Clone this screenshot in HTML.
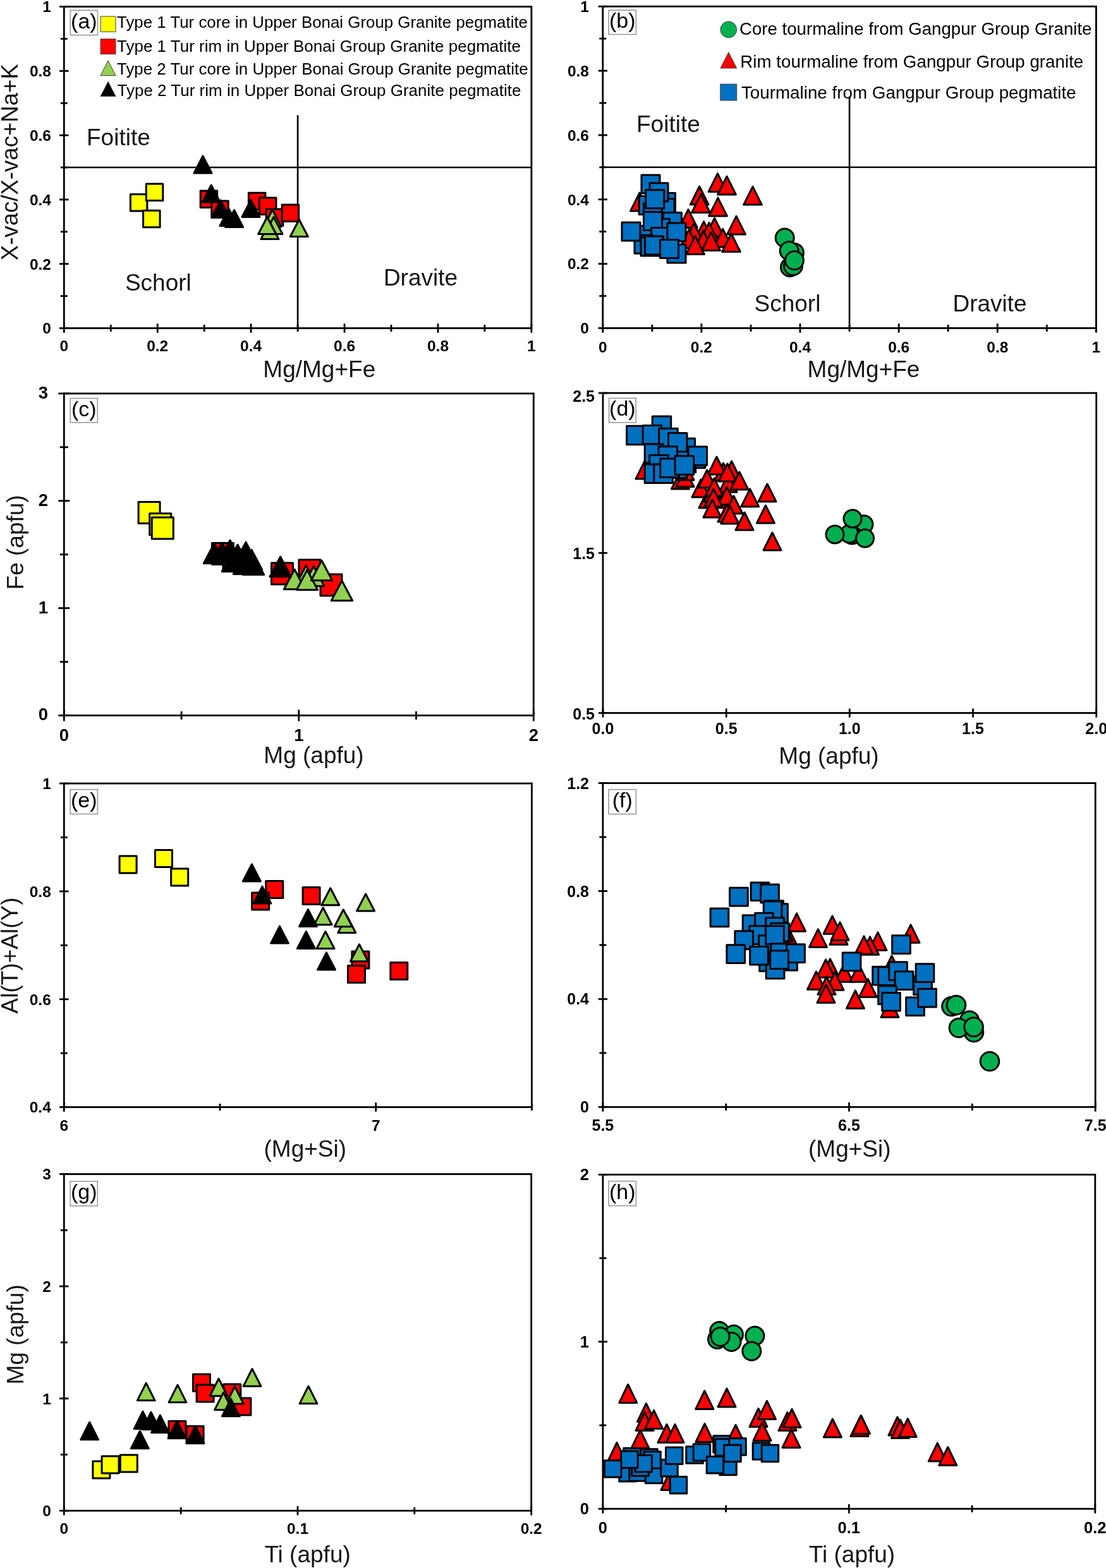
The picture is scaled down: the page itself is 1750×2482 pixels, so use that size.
<!DOCTYPE html>
<html><head><meta charset="utf-8"><title>Tourmaline plots</title>
<style>html,body{margin:0;padding:0;background:#fff;overflow:hidden;width:1750px;height:2482px;}svg{display:block;}</style>
</head><body>
<svg width="1750" height="2482" viewBox="0 0 1750 2482" font-family='"Liberation Sans", sans-serif'>
<rect x="0" y="0" width="1750" height="2482" fill="#fff"/>
<line x1="101.3" y1="265" x2="840.9" y2="265" stroke="#000" stroke-width="2.6"/>
<line x1="471.1" y1="182.2" x2="471.1" y2="519.5" stroke="#000" stroke-width="2.6"/>
<rect x="206.4" y="307.4" width="26.5" height="26.5" fill="#FFFF00" stroke="#000" stroke-width="3" stroke-linejoin="round"/>
<rect x="231.3" y="291.1" width="26.5" height="26.5" fill="#FFFF00" stroke="#000" stroke-width="3" stroke-linejoin="round"/>
<rect x="226.6" y="333.2" width="26.5" height="26.5" fill="#FFFF00" stroke="#000" stroke-width="3" stroke-linejoin="round"/>
<rect x="317.2" y="302.1" width="26.5" height="26.5" fill="#FF0000" stroke="#000" stroke-width="3" stroke-linejoin="round"/>
<rect x="334.8" y="317.9" width="26.5" height="26.5" fill="#FF0000" stroke="#000" stroke-width="3" stroke-linejoin="round"/>
<rect x="393.4" y="305.2" width="26.5" height="26.5" fill="#FF0000" stroke="#000" stroke-width="3" stroke-linejoin="round"/>
<rect x="410.4" y="312.9" width="26.5" height="26.5" fill="#FF0000" stroke="#000" stroke-width="3" stroke-linejoin="round"/>
<rect x="421.2" y="331.1" width="26.5" height="26.5" fill="#FF0000" stroke="#000" stroke-width="3" stroke-linejoin="round"/>
<rect x="446.2" y="323.9" width="26.5" height="26.5" fill="#FF0000" stroke="#000" stroke-width="3" stroke-linejoin="round"/>
<polygon points="431,332 445,359 417,359" fill="#92D050" stroke="#000" stroke-width="3" stroke-linejoin="round"/>
<polygon points="433,343.5 447,370.5 419,370.5" fill="#92D050" stroke="#000" stroke-width="3" stroke-linejoin="round"/>
<polygon points="427,351.5 441,378.5 413,378.5" fill="#92D050" stroke="#000" stroke-width="3" stroke-linejoin="round"/>
<polygon points="422.7,343.5 436.7,370.5 408.7,370.5" fill="#92D050" stroke="#000" stroke-width="3" stroke-linejoin="round"/>
<polygon points="473.3,347.5 487.3,374.5 459.3,374.5" fill="#92D050" stroke="#000" stroke-width="3" stroke-linejoin="round"/>
<polygon points="321,246.9 335,273.9 307,273.9" fill="#000000" stroke="#000" stroke-width="3" stroke-linejoin="round"/>
<polygon points="334.2,293 348.2,320 320.2,320" fill="#000000" stroke="#000" stroke-width="3" stroke-linejoin="round"/>
<polygon points="349,317 363,344 335,344" fill="#000000" stroke="#000" stroke-width="3" stroke-linejoin="round"/>
<polygon points="362,330.5 376,357.5 348,357.5" fill="#000000" stroke="#000" stroke-width="3" stroke-linejoin="round"/>
<polygon points="370.6,332.5 384.6,359.5 356.6,359.5" fill="#000000" stroke="#000" stroke-width="3" stroke-linejoin="round"/>
<polygon points="397,316.5 411,343.5 383,343.5" fill="#000000" stroke="#000" stroke-width="3" stroke-linejoin="round"/>
<rect x="101.3" y="10.5" width="739.6" height="509" fill="none" stroke="#000" stroke-width="2.8"/>
<line x1="101.3" y1="512.3" x2="101.3" y2="526.7" stroke="#000" stroke-width="2.8"/>
<text x="101.3" y="556" font-size="24.5" font-weight="bold" text-anchor="middle" fill="#000">0</text>
<line x1="249.2" y1="512.3" x2="249.2" y2="526.7" stroke="#000" stroke-width="2.8"/>
<text x="249.2" y="556" font-size="24.5" font-weight="bold" text-anchor="middle" fill="#000">0.2</text>
<line x1="397.1" y1="512.3" x2="397.1" y2="526.7" stroke="#000" stroke-width="2.8"/>
<text x="397.1" y="556" font-size="24.5" font-weight="bold" text-anchor="middle" fill="#000">0.4</text>
<line x1="545.1" y1="512.3" x2="545.1" y2="526.7" stroke="#000" stroke-width="2.8"/>
<text x="545.1" y="556" font-size="24.5" font-weight="bold" text-anchor="middle" fill="#000">0.6</text>
<line x1="693" y1="512.3" x2="693" y2="526.7" stroke="#000" stroke-width="2.8"/>
<text x="693" y="556" font-size="24.5" font-weight="bold" text-anchor="middle" fill="#000">0.8</text>
<line x1="840.9" y1="512.3" x2="840.9" y2="526.7" stroke="#000" stroke-width="2.8"/>
<text x="840.9" y="556" font-size="24.5" font-weight="bold" text-anchor="middle" fill="#000">1</text>
<line x1="175.3" y1="514" x2="175.3" y2="525" stroke="#000" stroke-width="2.8"/>
<line x1="323.2" y1="514" x2="323.2" y2="525" stroke="#000" stroke-width="2.8"/>
<line x1="471.1" y1="514" x2="471.1" y2="525" stroke="#000" stroke-width="2.8"/>
<line x1="619" y1="514" x2="619" y2="525" stroke="#000" stroke-width="2.8"/>
<line x1="766.9" y1="514" x2="766.9" y2="525" stroke="#000" stroke-width="2.8"/>
<line x1="94.1" y1="519.5" x2="108.5" y2="519.5" stroke="#000" stroke-width="2.8"/>
<text x="81" y="528.3" font-size="24.5" font-weight="bold" text-anchor="end" fill="#000">0</text>
<line x1="94.1" y1="417.7" x2="108.5" y2="417.7" stroke="#000" stroke-width="2.8"/>
<text x="81" y="426.5" font-size="24.5" font-weight="bold" text-anchor="end" fill="#000">0.2</text>
<line x1="94.1" y1="315.9" x2="108.5" y2="315.9" stroke="#000" stroke-width="2.8"/>
<text x="81" y="324.7" font-size="24.5" font-weight="bold" text-anchor="end" fill="#000">0.4</text>
<line x1="94.1" y1="214.1" x2="108.5" y2="214.1" stroke="#000" stroke-width="2.8"/>
<text x="81" y="222.9" font-size="24.5" font-weight="bold" text-anchor="end" fill="#000">0.6</text>
<line x1="94.1" y1="112.3" x2="108.5" y2="112.3" stroke="#000" stroke-width="2.8"/>
<text x="81" y="121.1" font-size="24.5" font-weight="bold" text-anchor="end" fill="#000">0.8</text>
<line x1="94.1" y1="10.5" x2="108.5" y2="10.5" stroke="#000" stroke-width="2.8"/>
<text x="81" y="19.3" font-size="24.5" font-weight="bold" text-anchor="end" fill="#000">1</text>
<line x1="95.8" y1="468.6" x2="106.8" y2="468.6" stroke="#000" stroke-width="2.8"/>
<line x1="95.8" y1="366.8" x2="106.8" y2="366.8" stroke="#000" stroke-width="2.8"/>
<line x1="95.8" y1="265" x2="106.8" y2="265" stroke="#000" stroke-width="2.8"/>
<line x1="95.8" y1="163.2" x2="106.8" y2="163.2" stroke="#000" stroke-width="2.8"/>
<line x1="95.8" y1="61.4" x2="106.8" y2="61.4" stroke="#000" stroke-width="2.8"/>
<rect x="111.3" y="16.4" width="43.2" height="39.2" fill="#fff" stroke="#9a9a9a" stroke-width="1.6"/>
<text x="132.9" y="44.8" font-size="34" text-anchor="middle" fill="#000">(a)</text>
<line x1="953.8" y1="264.8" x2="1734.4" y2="264.8" stroke="#000" stroke-width="2.6"/>
<line x1="1344.1" y1="152.5" x2="1344.1" y2="519.4" stroke="#000" stroke-width="2.6"/>
<circle cx="1241.7" cy="376.5" r="14.5" fill="#00B050" stroke="#000" stroke-width="3"/>
<circle cx="1250" cy="423" r="14.5" fill="#00B050" stroke="#000" stroke-width="3"/>
<circle cx="1255" cy="421" r="14.5" fill="#00B050" stroke="#000" stroke-width="3"/>
<circle cx="1257" cy="400" r="14.5" fill="#00B050" stroke="#000" stroke-width="3"/>
<circle cx="1248.7" cy="397" r="14.5" fill="#00B050" stroke="#000" stroke-width="3"/>
<circle cx="1257" cy="412.3" r="14.5" fill="#00B050" stroke="#000" stroke-width="3"/>
<polygon points="1012,305.1 1026.4,333.9 997.6,333.9" fill="#FF0000" stroke="#000" stroke-width="3" stroke-linejoin="round"/>
<polygon points="1135.5,274.6 1149.9,303.4 1121.1,303.4" fill="#FF0000" stroke="#000" stroke-width="3" stroke-linejoin="round"/>
<polygon points="1150,279.2 1164.4,308 1135.6,308" fill="#FF0000" stroke="#000" stroke-width="3" stroke-linejoin="round"/>
<polygon points="1191,295.3 1205.4,324.1 1176.6,324.1" fill="#FF0000" stroke="#000" stroke-width="3" stroke-linejoin="round"/>
<polygon points="1106.7,295 1121.1,323.8 1092.3,323.8" fill="#FF0000" stroke="#000" stroke-width="3" stroke-linejoin="round"/>
<polygon points="1109,307.6 1123.4,336.4 1094.6,336.4" fill="#FF0000" stroke="#000" stroke-width="3" stroke-linejoin="round"/>
<polygon points="1136,313.1 1150.4,341.9 1121.6,341.9" fill="#FF0000" stroke="#000" stroke-width="3" stroke-linejoin="round"/>
<polygon points="1089,331.6 1103.4,360.4 1074.6,360.4" fill="#FF0000" stroke="#000" stroke-width="3" stroke-linejoin="round"/>
<polygon points="1165,342.1 1179.4,370.9 1150.6,370.9" fill="#FF0000" stroke="#000" stroke-width="3" stroke-linejoin="round"/>
<polygon points="1130.6,345.2 1145,374 1116.2,374" fill="#FF0000" stroke="#000" stroke-width="3" stroke-linejoin="round"/>
<polygon points="1113.6,350.6 1128,379.4 1099.2,379.4" fill="#FF0000" stroke="#000" stroke-width="3" stroke-linejoin="round"/>
<polygon points="1122,352.6 1136.4,381.4 1107.6,381.4" fill="#FF0000" stroke="#000" stroke-width="3" stroke-linejoin="round"/>
<polygon points="1098,353.6 1112.4,382.4 1083.6,382.4" fill="#FF0000" stroke="#000" stroke-width="3" stroke-linejoin="round"/>
<polygon points="1143.7,362.3 1158.1,391.1 1129.3,391.1" fill="#FF0000" stroke="#000" stroke-width="3" stroke-linejoin="round"/>
<polygon points="1157,369.6 1171.4,398.4 1142.6,398.4" fill="#FF0000" stroke="#000" stroke-width="3" stroke-linejoin="round"/>
<polygon points="1113,365.6 1127.4,394.4 1098.6,394.4" fill="#FF0000" stroke="#000" stroke-width="3" stroke-linejoin="round"/>
<polygon points="1090,363.6 1104.4,392.4 1075.6,392.4" fill="#FF0000" stroke="#000" stroke-width="3" stroke-linejoin="round"/>
<polygon points="1100,373.6 1114.4,402.4 1085.6,402.4" fill="#FF0000" stroke="#000" stroke-width="3" stroke-linejoin="round"/>
<polygon points="1125,367.6 1139.4,396.4 1110.6,396.4" fill="#FF0000" stroke="#000" stroke-width="3" stroke-linejoin="round"/>
<rect x="1011.5" y="357.5" width="29" height="29" fill="#0070C0" stroke="#000" stroke-width="3" stroke-linejoin="round"/>
<rect x="1039.5" y="305.5" width="29" height="29" fill="#0070C0" stroke="#000" stroke-width="3" stroke-linejoin="round"/>
<rect x="1038.1" y="314.5" width="29" height="29" fill="#0070C0" stroke="#000" stroke-width="3" stroke-linejoin="round"/>
<rect x="1011.2" y="310.5" width="29" height="29" fill="#0070C0" stroke="#000" stroke-width="3" stroke-linejoin="round"/>
<rect x="1018.5" y="321.5" width="29" height="29" fill="#0070C0" stroke="#000" stroke-width="3" stroke-linejoin="round"/>
<rect x="1049.5" y="336.5" width="29" height="29" fill="#0070C0" stroke="#000" stroke-width="3" stroke-linejoin="round"/>
<rect x="1030.5" y="346.5" width="29" height="29" fill="#0070C0" stroke="#000" stroke-width="3" stroke-linejoin="round"/>
<rect x="1018.5" y="335.5" width="29" height="29" fill="#0070C0" stroke="#000" stroke-width="3" stroke-linejoin="round"/>
<rect x="1030.5" y="360.5" width="29" height="29" fill="#0070C0" stroke="#000" stroke-width="3" stroke-linejoin="round"/>
<rect x="1004" y="372.2" width="29" height="29" fill="#0070C0" stroke="#000" stroke-width="3" stroke-linejoin="round"/>
<rect x="1014.1" y="375.9" width="29" height="29" fill="#0070C0" stroke="#000" stroke-width="3" stroke-linejoin="round"/>
<rect x="1056" y="387" width="29" height="29" fill="#0070C0" stroke="#000" stroke-width="3" stroke-linejoin="round"/>
<rect x="1015" y="277.1" width="29" height="29" fill="#0070C0" stroke="#000" stroke-width="3" stroke-linejoin="round"/>
<rect x="1028" y="289.8" width="29" height="29" fill="#0070C0" stroke="#000" stroke-width="3" stroke-linejoin="round"/>
<rect x="1021.8" y="300.8" width="29" height="29" fill="#0070C0" stroke="#000" stroke-width="3" stroke-linejoin="round"/>
<rect x="984" y="351.9" width="29" height="29" fill="#0070C0" stroke="#000" stroke-width="3" stroke-linejoin="round"/>
<rect x="1056" y="353" width="29" height="29" fill="#0070C0" stroke="#000" stroke-width="3" stroke-linejoin="round"/>
<rect x="1020.5" y="374.1" width="29" height="29" fill="#0070C0" stroke="#000" stroke-width="3" stroke-linejoin="round"/>
<rect x="1044.5" y="379.5" width="29" height="29" fill="#0070C0" stroke="#000" stroke-width="3" stroke-linejoin="round"/>
<rect x="953.8" y="10.2" width="780.6" height="509.2" fill="none" stroke="#000" stroke-width="2.8"/>
<line x1="953.8" y1="512.2" x2="953.8" y2="526.6" stroke="#000" stroke-width="2.8"/>
<text x="953.8" y="558" font-size="24.5" font-weight="bold" text-anchor="middle" fill="#000">0</text>
<line x1="1109.9" y1="512.2" x2="1109.9" y2="526.6" stroke="#000" stroke-width="2.8"/>
<text x="1109.9" y="558" font-size="24.5" font-weight="bold" text-anchor="middle" fill="#000">0.2</text>
<line x1="1266" y1="512.2" x2="1266" y2="526.6" stroke="#000" stroke-width="2.8"/>
<text x="1266" y="558" font-size="24.5" font-weight="bold" text-anchor="middle" fill="#000">0.4</text>
<line x1="1422.2" y1="512.2" x2="1422.2" y2="526.6" stroke="#000" stroke-width="2.8"/>
<text x="1422.2" y="558" font-size="24.5" font-weight="bold" text-anchor="middle" fill="#000">0.6</text>
<line x1="1578.3" y1="512.2" x2="1578.3" y2="526.6" stroke="#000" stroke-width="2.8"/>
<text x="1578.3" y="558" font-size="24.5" font-weight="bold" text-anchor="middle" fill="#000">0.8</text>
<line x1="1734.4" y1="512.2" x2="1734.4" y2="526.6" stroke="#000" stroke-width="2.8"/>
<text x="1734.4" y="558" font-size="24.5" font-weight="bold" text-anchor="middle" fill="#000">1</text>
<line x1="1031.9" y1="513.9" x2="1031.9" y2="524.9" stroke="#000" stroke-width="2.8"/>
<line x1="1188" y1="513.9" x2="1188" y2="524.9" stroke="#000" stroke-width="2.8"/>
<line x1="1344.1" y1="513.9" x2="1344.1" y2="524.9" stroke="#000" stroke-width="2.8"/>
<line x1="1500.2" y1="513.9" x2="1500.2" y2="524.9" stroke="#000" stroke-width="2.8"/>
<line x1="1656.3" y1="513.9" x2="1656.3" y2="524.9" stroke="#000" stroke-width="2.8"/>
<line x1="946.6" y1="519.4" x2="961" y2="519.4" stroke="#000" stroke-width="2.8"/>
<text x="932" y="528.2" font-size="24.5" font-weight="bold" text-anchor="end" fill="#000">0</text>
<line x1="946.6" y1="417.6" x2="961" y2="417.6" stroke="#000" stroke-width="2.8"/>
<text x="932" y="426.3" font-size="24.5" font-weight="bold" text-anchor="end" fill="#000">0.2</text>
<line x1="946.6" y1="315.7" x2="961" y2="315.7" stroke="#000" stroke-width="2.8"/>
<text x="932" y="324.5" font-size="24.5" font-weight="bold" text-anchor="end" fill="#000">0.4</text>
<line x1="946.6" y1="213.9" x2="961" y2="213.9" stroke="#000" stroke-width="2.8"/>
<text x="932" y="222.7" font-size="24.5" font-weight="bold" text-anchor="end" fill="#000">0.6</text>
<line x1="946.6" y1="112" x2="961" y2="112" stroke="#000" stroke-width="2.8"/>
<text x="932" y="120.8" font-size="24.5" font-weight="bold" text-anchor="end" fill="#000">0.8</text>
<line x1="946.6" y1="10.2" x2="961" y2="10.2" stroke="#000" stroke-width="2.8"/>
<text x="932" y="19" font-size="24.5" font-weight="bold" text-anchor="end" fill="#000">1</text>
<line x1="948.3" y1="468.5" x2="959.3" y2="468.5" stroke="#000" stroke-width="2.8"/>
<line x1="948.3" y1="366.6" x2="959.3" y2="366.6" stroke="#000" stroke-width="2.8"/>
<line x1="948.3" y1="264.8" x2="959.3" y2="264.8" stroke="#000" stroke-width="2.8"/>
<line x1="948.3" y1="163" x2="959.3" y2="163" stroke="#000" stroke-width="2.8"/>
<line x1="948.3" y1="61.1" x2="959.3" y2="61.1" stroke="#000" stroke-width="2.8"/>
<rect x="963.1" y="16.2" width="43.3" height="38.3" fill="#fff" stroke="#9a9a9a" stroke-width="1.6"/>
<text x="984.8" y="44.2" font-size="34" text-anchor="middle" fill="#000">(b)</text>
<rect x="219.1" y="794.5" width="34" height="34" fill="#FFFF00" stroke="#000" stroke-width="3" stroke-linejoin="round"/>
<rect x="236.7" y="812.8" width="34" height="34" fill="#FFFF00" stroke="#000" stroke-width="3" stroke-linejoin="round"/>
<rect x="240.3" y="819" width="34" height="34" fill="#FFFF00" stroke="#000" stroke-width="3" stroke-linejoin="round"/>
<rect x="335.5" y="859.6" width="34" height="34" fill="#FF0000" stroke="#000" stroke-width="3" stroke-linejoin="round"/>
<rect x="353" y="869.5" width="34" height="34" fill="#FF0000" stroke="#000" stroke-width="3" stroke-linejoin="round"/>
<rect x="429.5" y="891" width="34" height="34" fill="#FF0000" stroke="#000" stroke-width="3" stroke-linejoin="round"/>
<rect x="473" y="886" width="34" height="34" fill="#FF0000" stroke="#000" stroke-width="3" stroke-linejoin="round"/>
<rect x="507" y="909" width="34" height="34" fill="#FF0000" stroke="#000" stroke-width="3" stroke-linejoin="round"/>
<polygon points="484.2,895.2 500.9,926.8 467.5,926.8" fill="#92D050" stroke="#000" stroke-width="3" stroke-linejoin="round"/>
<polygon points="496.3,896.2 513,927.8 479.6,927.8" fill="#92D050" stroke="#000" stroke-width="3" stroke-linejoin="round"/>
<polygon points="466,901.2 482.7,932.8 449.3,932.8" fill="#92D050" stroke="#000" stroke-width="3" stroke-linejoin="round"/>
<polygon points="486,902.2 502.7,933.8 469.3,933.8" fill="#92D050" stroke="#000" stroke-width="3" stroke-linejoin="round"/>
<polygon points="509,887.2 525.7,918.8 492.3,918.8" fill="#92D050" stroke="#000" stroke-width="3" stroke-linejoin="round"/>
<polygon points="541,919.2 557.7,950.8 524.3,950.8" fill="#92D050" stroke="#000" stroke-width="3" stroke-linejoin="round"/>
<polygon points="339,860.2 355.7,891.8 322.3,891.8" fill="#000000" stroke="#000" stroke-width="3" stroke-linejoin="round"/>
<polygon points="364,855.2 380.7,886.8 347.3,886.8" fill="#000000" stroke="#000" stroke-width="3" stroke-linejoin="round"/>
<polygon points="389,858.2 405.7,889.8 372.3,889.8" fill="#000000" stroke="#000" stroke-width="3" stroke-linejoin="round"/>
<polygon points="398,870.2 414.7,901.8 381.3,901.8" fill="#000000" stroke="#000" stroke-width="3" stroke-linejoin="round"/>
<polygon points="401,878.2 417.7,909.8 384.3,909.8" fill="#000000" stroke="#000" stroke-width="3" stroke-linejoin="round"/>
<polygon points="351,859.2 367.7,890.8 334.3,890.8" fill="#000000" stroke="#000" stroke-width="3" stroke-linejoin="round"/>
<polygon points="376,862.2 392.7,893.8 359.3,893.8" fill="#000000" stroke="#000" stroke-width="3" stroke-linejoin="round"/>
<polygon points="368,873.2 384.7,904.8 351.3,904.8" fill="#000000" stroke="#000" stroke-width="3" stroke-linejoin="round"/>
<polygon points="386,877.2 402.7,908.8 369.3,908.8" fill="#000000" stroke="#000" stroke-width="3" stroke-linejoin="round"/>
<polygon points="443.7,881.2 460.4,912.8 427,912.8" fill="#000000" stroke="#000" stroke-width="3" stroke-linejoin="round"/>
<rect x="101.3" y="622.9" width="743" height="509.6" fill="none" stroke="#000" stroke-width="2.8"/>
<line x1="101.3" y1="1123.5" x2="101.3" y2="1141.5" stroke="#000" stroke-width="2.8"/>
<text x="101.3" y="1173.4" font-size="27.5" font-weight="bold" text-anchor="middle" fill="#000">0</text>
<line x1="472.8" y1="1123.5" x2="472.8" y2="1141.5" stroke="#000" stroke-width="2.8"/>
<text x="472.8" y="1173.4" font-size="27.5" font-weight="bold" text-anchor="middle" fill="#000">1</text>
<line x1="844.3" y1="1123.5" x2="844.3" y2="1141.5" stroke="#000" stroke-width="2.8"/>
<text x="844.3" y="1173.4" font-size="27.5" font-weight="bold" text-anchor="middle" fill="#000">2</text>
<line x1="287.1" y1="1126" x2="287.1" y2="1139" stroke="#000" stroke-width="2.8"/>
<line x1="658.5" y1="1126" x2="658.5" y2="1139" stroke="#000" stroke-width="2.8"/>
<line x1="92.3" y1="1132.5" x2="110.3" y2="1132.5" stroke="#000" stroke-width="2.8"/>
<text x="76" y="1140.3" font-size="27.5" font-weight="bold" text-anchor="end" fill="#000">0</text>
<line x1="92.3" y1="962.6" x2="110.3" y2="962.6" stroke="#000" stroke-width="2.8"/>
<text x="76" y="970.5" font-size="27.5" font-weight="bold" text-anchor="end" fill="#000">1</text>
<line x1="92.3" y1="792.8" x2="110.3" y2="792.8" stroke="#000" stroke-width="2.8"/>
<text x="76" y="800.6" font-size="27.5" font-weight="bold" text-anchor="end" fill="#000">2</text>
<line x1="92.3" y1="622.9" x2="110.3" y2="622.9" stroke="#000" stroke-width="2.8"/>
<text x="76" y="630.7" font-size="27.5" font-weight="bold" text-anchor="end" fill="#000">3</text>
<line x1="94.8" y1="1047.6" x2="107.8" y2="1047.6" stroke="#000" stroke-width="2.8"/>
<line x1="94.8" y1="877.7" x2="107.8" y2="877.7" stroke="#000" stroke-width="2.8"/>
<line x1="94.8" y1="707.8" x2="107.8" y2="707.8" stroke="#000" stroke-width="2.8"/>
<rect x="111.2" y="630.5" width="43.1" height="38.3" fill="#fff" stroke="#9a9a9a" stroke-width="1.6"/>
<text x="132.8" y="658.5" font-size="34" text-anchor="middle" fill="#000">(c)</text>
<circle cx="1367" cy="830" r="14" fill="#00B050" stroke="#000" stroke-width="3"/>
<circle cx="1348" cy="847" r="14" fill="#00B050" stroke="#000" stroke-width="3"/>
<circle cx="1344" cy="845" r="14" fill="#00B050" stroke="#000" stroke-width="3"/>
<circle cx="1349" cy="821" r="14" fill="#00B050" stroke="#000" stroke-width="3"/>
<circle cx="1321" cy="846" r="14" fill="#00B050" stroke="#000" stroke-width="3"/>
<circle cx="1368.6" cy="852" r="14" fill="#00B050" stroke="#000" stroke-width="3"/>
<polygon points="1020,730 1034,758 1006,758" fill="#FF0000" stroke="#000" stroke-width="3" stroke-linejoin="round"/>
<polygon points="1076.4,746 1090.4,774 1062.5,774" fill="#FF0000" stroke="#000" stroke-width="3" stroke-linejoin="round"/>
<polygon points="1084,742.4 1098,770.4 1070,770.4" fill="#FF0000" stroke="#000" stroke-width="3" stroke-linejoin="round"/>
<polygon points="1084,732 1098,760 1070,760" fill="#FF0000" stroke="#000" stroke-width="3" stroke-linejoin="round"/>
<polygon points="1144.5,733 1158.5,761 1130.5,761" fill="#FF0000" stroke="#000" stroke-width="3" stroke-linejoin="round"/>
<polygon points="1152,751 1166,779 1138,779" fill="#FF0000" stroke="#000" stroke-width="3" stroke-linejoin="round"/>
<polygon points="1120,776 1134,804 1106,804" fill="#FF0000" stroke="#000" stroke-width="3" stroke-linejoin="round"/>
<polygon points="1136,776 1150,804 1122,804" fill="#FF0000" stroke="#000" stroke-width="3" stroke-linejoin="round"/>
<polygon points="1109,759 1123,787 1095,787" fill="#FF0000" stroke="#000" stroke-width="3" stroke-linejoin="round"/>
<polygon points="1134,723 1148,751 1120,751" fill="#FF0000" stroke="#000" stroke-width="3" stroke-linejoin="round"/>
<polygon points="1157.6,730 1171.5,758 1143.6,758" fill="#FF0000" stroke="#000" stroke-width="3" stroke-linejoin="round"/>
<polygon points="1151,734 1165,762 1137,762" fill="#FF0000" stroke="#000" stroke-width="3" stroke-linejoin="round"/>
<polygon points="1118.7,744 1132.7,772 1104.8,772" fill="#FF0000" stroke="#000" stroke-width="3" stroke-linejoin="round"/>
<polygon points="1170,747 1184,775 1156,775" fill="#FF0000" stroke="#000" stroke-width="3" stroke-linejoin="round"/>
<polygon points="1128,766 1142,794 1114,794" fill="#FF0000" stroke="#000" stroke-width="3" stroke-linejoin="round"/>
<polygon points="1150,771 1164,799 1136,799" fill="#FF0000" stroke="#000" stroke-width="3" stroke-linejoin="round"/>
<polygon points="1130,757 1144,785 1116,785" fill="#FF0000" stroke="#000" stroke-width="3" stroke-linejoin="round"/>
<polygon points="1129,774 1143,802 1115,802" fill="#FF0000" stroke="#000" stroke-width="3" stroke-linejoin="round"/>
<polygon points="1214,766 1228,794 1200,794" fill="#FF0000" stroke="#000" stroke-width="3" stroke-linejoin="round"/>
<polygon points="1186.7,774 1200.7,802 1172.8,802" fill="#FF0000" stroke="#000" stroke-width="3" stroke-linejoin="round"/>
<polygon points="1161,785 1175,813 1147,813" fill="#FF0000" stroke="#000" stroke-width="3" stroke-linejoin="round"/>
<polygon points="1127,791 1141,819 1113,819" fill="#FF0000" stroke="#000" stroke-width="3" stroke-linejoin="round"/>
<polygon points="1211.4,800 1225.4,828 1197.5,828" fill="#FF0000" stroke="#000" stroke-width="3" stroke-linejoin="round"/>
<polygon points="1178,811 1192,839 1164,839" fill="#FF0000" stroke="#000" stroke-width="3" stroke-linejoin="round"/>
<polygon points="1150,798 1164,826 1136,826" fill="#FF0000" stroke="#000" stroke-width="3" stroke-linejoin="round"/>
<polygon points="1155,801 1169,829 1141,829" fill="#FF0000" stroke="#000" stroke-width="3" stroke-linejoin="round"/>
<polygon points="1222,843 1236,871 1208,871" fill="#FF0000" stroke="#000" stroke-width="3" stroke-linejoin="round"/>
<rect x="1086.2" y="711.2" width="29.5" height="29.5" fill="#0070C0" stroke="#000" stroke-width="3" stroke-linejoin="round"/>
<rect x="1071.2" y="718.2" width="29.5" height="29.5" fill="#0070C0" stroke="#000" stroke-width="3" stroke-linejoin="round"/>
<rect x="1057.2" y="727.2" width="29.5" height="29.5" fill="#0070C0" stroke="#000" stroke-width="3" stroke-linejoin="round"/>
<rect x="1032.2" y="658.9" width="29.5" height="29.5" fill="#0070C0" stroke="#000" stroke-width="3" stroke-linejoin="round"/>
<rect x="991.6" y="674.2" width="29.5" height="29.5" fill="#0070C0" stroke="#000" stroke-width="3" stroke-linejoin="round"/>
<rect x="1017.2" y="673.5" width="29.5" height="29.5" fill="#0070C0" stroke="#000" stroke-width="3" stroke-linejoin="round"/>
<rect x="1042.7" y="678.2" width="29.5" height="29.5" fill="#0070C0" stroke="#000" stroke-width="3" stroke-linejoin="round"/>
<rect x="1070" y="693.9" width="29.5" height="29.5" fill="#0070C0" stroke="#000" stroke-width="3" stroke-linejoin="round"/>
<rect x="1057.5" y="685.6" width="29.5" height="29.5" fill="#0070C0" stroke="#000" stroke-width="3" stroke-linejoin="round"/>
<rect x="1020.2" y="703" width="29.5" height="29.5" fill="#0070C0" stroke="#000" stroke-width="3" stroke-linejoin="round"/>
<rect x="1042" y="706.8" width="29.5" height="29.5" fill="#0070C0" stroke="#000" stroke-width="3" stroke-linejoin="round"/>
<rect x="1089" y="707" width="29.5" height="29.5" fill="#0070C0" stroke="#000" stroke-width="3" stroke-linejoin="round"/>
<rect x="1027.8" y="720.6" width="29.5" height="29.5" fill="#0070C0" stroke="#000" stroke-width="3" stroke-linejoin="round"/>
<rect x="1020.2" y="734.9" width="29.5" height="29.5" fill="#0070C0" stroke="#000" stroke-width="3" stroke-linejoin="round"/>
<rect x="1034.8" y="734.9" width="29.5" height="29.5" fill="#0070C0" stroke="#000" stroke-width="3" stroke-linejoin="round"/>
<rect x="1044.8" y="726" width="29.5" height="29.5" fill="#0070C0" stroke="#000" stroke-width="3" stroke-linejoin="round"/>
<rect x="1068.2" y="721.8" width="29.5" height="29.5" fill="#0070C0" stroke="#000" stroke-width="3" stroke-linejoin="round"/>
<rect x="954" y="622.1" width="780.7" height="506.5" fill="none" stroke="#000" stroke-width="2.8"/>
<line x1="954" y1="1121.6" x2="954" y2="1135.6" stroke="#000" stroke-width="2.8"/>
<text x="954" y="1161.5" font-size="25" font-weight="bold" text-anchor="middle" fill="#000">0.0</text>
<line x1="1149.2" y1="1121.6" x2="1149.2" y2="1135.6" stroke="#000" stroke-width="2.8"/>
<text x="1149.2" y="1161.5" font-size="25" font-weight="bold" text-anchor="middle" fill="#000">0.5</text>
<line x1="1344.3" y1="1121.6" x2="1344.3" y2="1135.6" stroke="#000" stroke-width="2.8"/>
<text x="1344.3" y="1161.5" font-size="25" font-weight="bold" text-anchor="middle" fill="#000">1.0</text>
<line x1="1539.5" y1="1121.6" x2="1539.5" y2="1135.6" stroke="#000" stroke-width="2.8"/>
<text x="1539.5" y="1161.5" font-size="25" font-weight="bold" text-anchor="middle" fill="#000">1.5</text>
<line x1="1734.7" y1="1121.6" x2="1734.7" y2="1135.6" stroke="#000" stroke-width="2.8"/>
<text x="1734.7" y="1161.5" font-size="25" font-weight="bold" text-anchor="middle" fill="#000">2.0</text>
<line x1="947" y1="1128.6" x2="961" y2="1128.6" stroke="#000" stroke-width="2.8"/>
<text x="941" y="1139.2" font-size="25" font-weight="bold" text-anchor="end" fill="#000">0.5</text>
<line x1="947" y1="875.3" x2="961" y2="875.3" stroke="#000" stroke-width="2.8"/>
<text x="941" y="885.3" font-size="25" font-weight="bold" text-anchor="end" fill="#000">1.5</text>
<line x1="947" y1="622.1" x2="961" y2="622.1" stroke="#000" stroke-width="2.8"/>
<text x="941" y="635.6" font-size="25" font-weight="bold" text-anchor="end" fill="#000">2.5</text>
<rect x="963.6" y="630.3" width="42.6" height="38.5" fill="#fff" stroke="#9a9a9a" stroke-width="1.6"/>
<text x="984.9" y="658.4" font-size="34" text-anchor="middle" fill="#000">(d)</text>
<rect x="189.1" y="1355.1" width="27" height="27" fill="#FFFF00" stroke="#000" stroke-width="3" stroke-linejoin="round"/>
<rect x="245.5" y="1345.4" width="27" height="27" fill="#FFFF00" stroke="#000" stroke-width="3" stroke-linejoin="round"/>
<rect x="270.7" y="1375" width="27" height="27" fill="#FFFF00" stroke="#000" stroke-width="3" stroke-linejoin="round"/>
<rect x="420.8" y="1394.6" width="27" height="27" fill="#FF0000" stroke="#000" stroke-width="3" stroke-linejoin="round"/>
<rect x="398.7" y="1413.1" width="27" height="27" fill="#FF0000" stroke="#000" stroke-width="3" stroke-linejoin="round"/>
<rect x="479.1" y="1404.4" width="27" height="27" fill="#FF0000" stroke="#000" stroke-width="3" stroke-linejoin="round"/>
<rect x="556.9" y="1506" width="27" height="27" fill="#FF0000" stroke="#000" stroke-width="3" stroke-linejoin="round"/>
<rect x="550.5" y="1528.6" width="27" height="27" fill="#FF0000" stroke="#000" stroke-width="3" stroke-linejoin="round"/>
<rect x="617.8" y="1523.6" width="27" height="27" fill="#FF0000" stroke="#000" stroke-width="3" stroke-linejoin="round"/>
<polygon points="522.8,1405.8 536.8,1432.8 508.8,1432.8" fill="#92D050" stroke="#000" stroke-width="3" stroke-linejoin="round"/>
<polygon points="578.6,1415 592.6,1442 564.6,1442" fill="#92D050" stroke="#000" stroke-width="3" stroke-linejoin="round"/>
<polygon points="548.8,1449.5 562.8,1476.5 534.8,1476.5" fill="#92D050" stroke="#000" stroke-width="3" stroke-linejoin="round"/>
<polygon points="511.2,1436.7 525.1,1463.7 497.2,1463.7" fill="#92D050" stroke="#000" stroke-width="3" stroke-linejoin="round"/>
<polygon points="543.3,1439.8 557.2,1466.8 529.3,1466.8" fill="#92D050" stroke="#000" stroke-width="3" stroke-linejoin="round"/>
<polygon points="515,1474.5 529,1501.5 501.1,1501.5" fill="#92D050" stroke="#000" stroke-width="3" stroke-linejoin="round"/>
<polygon points="568.5,1494.8 582.5,1521.8 554.5,1521.8" fill="#92D050" stroke="#000" stroke-width="3" stroke-linejoin="round"/>
<polygon points="398.4,1368 412.3,1395 384.4,1395" fill="#000000" stroke="#000" stroke-width="3" stroke-linejoin="round"/>
<polygon points="415,1403.1 428.9,1430.1 401.1,1430.1" fill="#000000" stroke="#000" stroke-width="3" stroke-linejoin="round"/>
<polygon points="487.5,1439.5 501.4,1466.5 473.6,1466.5" fill="#000000" stroke="#000" stroke-width="3" stroke-linejoin="round"/>
<polygon points="442.5,1466.1 456.4,1493.1 428.6,1493.1" fill="#000000" stroke="#000" stroke-width="3" stroke-linejoin="round"/>
<polygon points="484.4,1474.5 498.3,1501.5 470.4,1501.5" fill="#000000" stroke="#000" stroke-width="3" stroke-linejoin="round"/>
<polygon points="516.5,1507.9 530.5,1534.9 502.6,1534.9" fill="#000000" stroke="#000" stroke-width="3" stroke-linejoin="round"/>
<rect x="101.3" y="1240.1" width="740.1" height="512.4" fill="none" stroke="#000" stroke-width="2.8"/>
<line x1="101.3" y1="1745.3" x2="101.3" y2="1759.7" stroke="#000" stroke-width="2.8"/>
<text x="101.3" y="1789.7" font-size="24.5" font-weight="bold" text-anchor="middle" fill="#000">6</text>
<line x1="594.7" y1="1745.3" x2="594.7" y2="1759.7" stroke="#000" stroke-width="2.8"/>
<text x="594.7" y="1789.7" font-size="24.5" font-weight="bold" text-anchor="middle" fill="#000">7</text>
<line x1="348" y1="1747" x2="348" y2="1758" stroke="#000" stroke-width="2.8"/>
<line x1="841.4" y1="1747" x2="841.4" y2="1758" stroke="#000" stroke-width="2.8"/>
<line x1="94.1" y1="1752.5" x2="108.5" y2="1752.5" stroke="#000" stroke-width="2.8"/>
<text x="80.8" y="1761.3" font-size="24.5" font-weight="bold" text-anchor="end" fill="#000">0.4</text>
<line x1="94.1" y1="1581.7" x2="108.5" y2="1581.7" stroke="#000" stroke-width="2.8"/>
<text x="80.8" y="1590.5" font-size="24.5" font-weight="bold" text-anchor="end" fill="#000">0.6</text>
<line x1="94.1" y1="1410.9" x2="108.5" y2="1410.9" stroke="#000" stroke-width="2.8"/>
<text x="80.8" y="1419.7" font-size="24.5" font-weight="bold" text-anchor="end" fill="#000">0.8</text>
<line x1="94.1" y1="1240.1" x2="108.5" y2="1240.1" stroke="#000" stroke-width="2.8"/>
<text x="80.8" y="1248.9" font-size="24.5" font-weight="bold" text-anchor="end" fill="#000">1</text>
<line x1="95.8" y1="1667.1" x2="106.8" y2="1667.1" stroke="#000" stroke-width="2.8"/>
<line x1="95.8" y1="1496.3" x2="106.8" y2="1496.3" stroke="#000" stroke-width="2.8"/>
<line x1="95.8" y1="1325.5" x2="106.8" y2="1325.5" stroke="#000" stroke-width="2.8"/>
<rect x="111.2" y="1249.7" width="43.2" height="38.8" fill="#fff" stroke="#9a9a9a" stroke-width="1.6"/>
<text x="132.8" y="1277.9" font-size="34" text-anchor="middle" fill="#000">(e)</text>
<circle cx="1505.5" cy="1593" r="14.8" fill="#00B050" stroke="#000" stroke-width="3"/>
<circle cx="1513" cy="1591" r="14.8" fill="#00B050" stroke="#000" stroke-width="3"/>
<circle cx="1534" cy="1615.5" r="14.8" fill="#00B050" stroke="#000" stroke-width="3"/>
<circle cx="1541" cy="1634" r="14.8" fill="#00B050" stroke="#000" stroke-width="3"/>
<circle cx="1517" cy="1627" r="14.8" fill="#00B050" stroke="#000" stroke-width="3"/>
<circle cx="1540.6" cy="1625.6" r="14.8" fill="#00B050" stroke="#000" stroke-width="3"/>
<circle cx="1566" cy="1680" r="14.8" fill="#00B050" stroke="#000" stroke-width="3"/>
<polygon points="1260.6,1445.8 1274.5,1474.2 1246.6,1474.2" fill="#FF0000" stroke="#000" stroke-width="3" stroke-linejoin="round"/>
<polygon points="1246,1465.8 1260,1494.2 1232,1494.2" fill="#FF0000" stroke="#000" stroke-width="3" stroke-linejoin="round"/>
<polygon points="1317,1449.8 1331,1478.2 1303,1478.2" fill="#FF0000" stroke="#000" stroke-width="3" stroke-linejoin="round"/>
<polygon points="1327,1466.8 1341,1495.2 1313,1495.2" fill="#FF0000" stroke="#000" stroke-width="3" stroke-linejoin="round"/>
<polygon points="1329,1459.8 1343,1488.2 1315,1488.2" fill="#FF0000" stroke="#000" stroke-width="3" stroke-linejoin="round"/>
<polygon points="1294.4,1470.8 1308.4,1499.2 1280.5,1499.2" fill="#FF0000" stroke="#000" stroke-width="3" stroke-linejoin="round"/>
<polygon points="1389,1475.8 1403,1504.2 1375,1504.2" fill="#FF0000" stroke="#000" stroke-width="3" stroke-linejoin="round"/>
<polygon points="1376.5,1482.8 1390.5,1511.2 1362.5,1511.2" fill="#FF0000" stroke="#000" stroke-width="3" stroke-linejoin="round"/>
<polygon points="1367,1481.8 1381,1510.2 1353,1510.2" fill="#FF0000" stroke="#000" stroke-width="3" stroke-linejoin="round"/>
<polygon points="1441,1463.8 1455,1492.2 1427,1492.2" fill="#FF0000" stroke="#000" stroke-width="3" stroke-linejoin="round"/>
<polygon points="1313.5,1517.8 1327.5,1546.2 1299.5,1546.2" fill="#FF0000" stroke="#000" stroke-width="3" stroke-linejoin="round"/>
<polygon points="1306.6,1518.8 1320.5,1547.2 1292.6,1547.2" fill="#FF0000" stroke="#000" stroke-width="3" stroke-linejoin="round"/>
<polygon points="1335.6,1525.8 1349.5,1554.2 1321.6,1554.2" fill="#FF0000" stroke="#000" stroke-width="3" stroke-linejoin="round"/>
<polygon points="1358.7,1525.8 1372.7,1554.2 1344.8,1554.2" fill="#FF0000" stroke="#000" stroke-width="3" stroke-linejoin="round"/>
<polygon points="1291.5,1537.8 1305.5,1566.2 1277.5,1566.2" fill="#FF0000" stroke="#000" stroke-width="3" stroke-linejoin="round"/>
<polygon points="1321,1538.8 1335,1567.2 1307,1567.2" fill="#FF0000" stroke="#000" stroke-width="3" stroke-linejoin="round"/>
<polygon points="1308,1545.8 1322,1574.2 1294,1574.2" fill="#FF0000" stroke="#000" stroke-width="3" stroke-linejoin="round"/>
<polygon points="1307,1558.8 1321,1587.2 1293,1587.2" fill="#FF0000" stroke="#000" stroke-width="3" stroke-linejoin="round"/>
<polygon points="1373.4,1549.8 1387.4,1578.2 1359.5,1578.2" fill="#FF0000" stroke="#000" stroke-width="3" stroke-linejoin="round"/>
<polygon points="1353.4,1567.8 1367.4,1596.2 1339.5,1596.2" fill="#FF0000" stroke="#000" stroke-width="3" stroke-linejoin="round"/>
<polygon points="1411,1512.8 1425,1541.2 1397,1541.2" fill="#FF0000" stroke="#000" stroke-width="3" stroke-linejoin="round"/>
<polygon points="1240,1461.8 1254,1490.2 1226,1490.2" fill="#FF0000" stroke="#000" stroke-width="3" stroke-linejoin="round"/>
<polygon points="1408,1581.8 1422,1610.2 1394,1610.2" fill="#FF0000" stroke="#000" stroke-width="3" stroke-linejoin="round"/>
<rect x="1201.7" y="1508.5" width="28.7" height="28.7" fill="#0070C0" stroke="#000" stroke-width="3" stroke-linejoin="round"/>
<rect x="1232.7" y="1507.4" width="28.7" height="28.7" fill="#0070C0" stroke="#000" stroke-width="3" stroke-linejoin="round"/>
<rect x="1124.1" y="1438" width="28.7" height="28.7" fill="#0070C0" stroke="#000" stroke-width="3" stroke-linejoin="round"/>
<rect x="1154.6" y="1405.2" width="28.7" height="28.7" fill="#0070C0" stroke="#000" stroke-width="3" stroke-linejoin="round"/>
<rect x="1188.1" y="1396.9" width="28.7" height="28.7" fill="#0070C0" stroke="#000" stroke-width="3" stroke-linejoin="round"/>
<rect x="1203.7" y="1400" width="28.7" height="28.7" fill="#0070C0" stroke="#000" stroke-width="3" stroke-linejoin="round"/>
<rect x="1175.2" y="1448.7" width="28.7" height="28.7" fill="#0070C0" stroke="#000" stroke-width="3" stroke-linejoin="round"/>
<rect x="1210.7" y="1425.7" width="28.7" height="28.7" fill="#0070C0" stroke="#000" stroke-width="3" stroke-linejoin="round"/>
<rect x="1217.7" y="1430.7" width="28.7" height="28.7" fill="#0070C0" stroke="#000" stroke-width="3" stroke-linejoin="round"/>
<rect x="1208.2" y="1426.7" width="28.7" height="28.7" fill="#0070C0" stroke="#000" stroke-width="3" stroke-linejoin="round"/>
<rect x="1194.7" y="1445.2" width="28.7" height="28.7" fill="#0070C0" stroke="#000" stroke-width="3" stroke-linejoin="round"/>
<rect x="1185.7" y="1465.7" width="28.7" height="28.7" fill="#0070C0" stroke="#000" stroke-width="3" stroke-linejoin="round"/>
<rect x="1200.7" y="1480.7" width="28.7" height="28.7" fill="#0070C0" stroke="#000" stroke-width="3" stroke-linejoin="round"/>
<rect x="1211.7" y="1452.7" width="28.7" height="28.7" fill="#0070C0" stroke="#000" stroke-width="3" stroke-linejoin="round"/>
<rect x="1219.7" y="1461.2" width="28.7" height="28.7" fill="#0070C0" stroke="#000" stroke-width="3" stroke-linejoin="round"/>
<rect x="1211.7" y="1465.7" width="28.7" height="28.7" fill="#0070C0" stroke="#000" stroke-width="3" stroke-linejoin="round"/>
<rect x="1162.9" y="1473.7" width="28.7" height="28.7" fill="#0070C0" stroke="#000" stroke-width="3" stroke-linejoin="round"/>
<rect x="1149.9" y="1495.7" width="28.7" height="28.7" fill="#0070C0" stroke="#000" stroke-width="3" stroke-linejoin="round"/>
<rect x="1219.7" y="1493.7" width="28.7" height="28.7" fill="#0070C0" stroke="#000" stroke-width="3" stroke-linejoin="round"/>
<rect x="1212.2" y="1520.2" width="28.7" height="28.7" fill="#0070C0" stroke="#000" stroke-width="3" stroke-linejoin="round"/>
<rect x="1186.7" y="1498.2" width="28.7" height="28.7" fill="#0070C0" stroke="#000" stroke-width="3" stroke-linejoin="round"/>
<rect x="1244.7" y="1494.7" width="28.7" height="28.7" fill="#0070C0" stroke="#000" stroke-width="3" stroke-linejoin="round"/>
<rect x="1218.7" y="1504.7" width="28.7" height="28.7" fill="#0070C0" stroke="#000" stroke-width="3" stroke-linejoin="round"/>
<rect x="1333.2" y="1508.1" width="28.7" height="28.7" fill="#0070C0" stroke="#000" stroke-width="3" stroke-linejoin="round"/>
<rect x="1411.7" y="1480.7" width="28.7" height="28.7" fill="#0070C0" stroke="#000" stroke-width="3" stroke-linejoin="round"/>
<rect x="1380.7" y="1530.2" width="28.7" height="28.7" fill="#0070C0" stroke="#000" stroke-width="3" stroke-linejoin="round"/>
<rect x="1389.7" y="1530.7" width="28.7" height="28.7" fill="#0070C0" stroke="#000" stroke-width="3" stroke-linejoin="round"/>
<rect x="1445.7" y="1545.7" width="28.7" height="28.7" fill="#0070C0" stroke="#000" stroke-width="3" stroke-linejoin="round"/>
<rect x="1406.7" y="1522.7" width="28.7" height="28.7" fill="#0070C0" stroke="#000" stroke-width="3" stroke-linejoin="round"/>
<rect x="1449.1" y="1525.7" width="28.7" height="28.7" fill="#0070C0" stroke="#000" stroke-width="3" stroke-linejoin="round"/>
<rect x="1416.2" y="1537.7" width="28.7" height="28.7" fill="#0070C0" stroke="#000" stroke-width="3" stroke-linejoin="round"/>
<rect x="1389.7" y="1560.7" width="28.7" height="28.7" fill="#0070C0" stroke="#000" stroke-width="3" stroke-linejoin="round"/>
<rect x="1395.7" y="1571.4" width="28.7" height="28.7" fill="#0070C0" stroke="#000" stroke-width="3" stroke-linejoin="round"/>
<rect x="1433.7" y="1578.7" width="28.7" height="28.7" fill="#0070C0" stroke="#000" stroke-width="3" stroke-linejoin="round"/>
<rect x="1452.7" y="1565.2" width="28.7" height="28.7" fill="#0070C0" stroke="#000" stroke-width="3" stroke-linejoin="round"/>
<rect x="953.9" y="1239.6" width="779.3" height="512.7" fill="none" stroke="#000" stroke-width="2.8"/>
<line x1="953.9" y1="1745.1" x2="953.9" y2="1759.5" stroke="#000" stroke-width="2.8"/>
<text x="953.9" y="1790.4" font-size="25" font-weight="bold" text-anchor="middle" fill="#000">5.5</text>
<line x1="1343.5" y1="1745.1" x2="1343.5" y2="1759.5" stroke="#000" stroke-width="2.8"/>
<text x="1343.5" y="1790.4" font-size="25" font-weight="bold" text-anchor="middle" fill="#000">6.5</text>
<line x1="1733.2" y1="1745.1" x2="1733.2" y2="1759.5" stroke="#000" stroke-width="2.8"/>
<text x="1733.2" y="1790.4" font-size="25" font-weight="bold" text-anchor="middle" fill="#000">7.5</text>
<line x1="1148.7" y1="1746.8" x2="1148.7" y2="1757.8" stroke="#000" stroke-width="2.8"/>
<line x1="1538.4" y1="1746.8" x2="1538.4" y2="1757.8" stroke="#000" stroke-width="2.8"/>
<line x1="946.7" y1="1752.3" x2="961.1" y2="1752.3" stroke="#000" stroke-width="2.8"/>
<text x="932" y="1761.2" font-size="25" font-weight="bold" text-anchor="end" fill="#000">0</text>
<line x1="946.7" y1="1581.4" x2="961.1" y2="1581.4" stroke="#000" stroke-width="2.8"/>
<text x="932" y="1590.3" font-size="25" font-weight="bold" text-anchor="end" fill="#000">0.4</text>
<line x1="946.7" y1="1410.5" x2="961.1" y2="1410.5" stroke="#000" stroke-width="2.8"/>
<text x="932" y="1419.5" font-size="25" font-weight="bold" text-anchor="end" fill="#000">0.8</text>
<line x1="946.7" y1="1239.6" x2="961.1" y2="1239.6" stroke="#000" stroke-width="2.8"/>
<text x="932" y="1248.5" font-size="25" font-weight="bold" text-anchor="end" fill="#000">1.2</text>
<line x1="948.4" y1="1666.8" x2="959.4" y2="1666.8" stroke="#000" stroke-width="2.8"/>
<line x1="948.4" y1="1495.9" x2="959.4" y2="1495.9" stroke="#000" stroke-width="2.8"/>
<line x1="948.4" y1="1325" x2="959.4" y2="1325" stroke="#000" stroke-width="2.8"/>
<rect x="963.1" y="1249.7" width="43.3" height="38.9" fill="#fff" stroke="#9a9a9a" stroke-width="1.6"/>
<text x="984.8" y="1278" font-size="34" text-anchor="middle" fill="#000">(f)</text>
<rect x="146.9" y="2313.1" width="27" height="27" fill="#FFFF00" stroke="#000" stroke-width="3" stroke-linejoin="round"/>
<rect x="161.1" y="2305" width="27" height="27" fill="#FFFF00" stroke="#000" stroke-width="3" stroke-linejoin="round"/>
<rect x="190.3" y="2302.9" width="27" height="27" fill="#FFFF00" stroke="#000" stroke-width="3" stroke-linejoin="round"/>
<rect x="266.9" y="2249.5" width="27" height="27" fill="#FF0000" stroke="#000" stroke-width="3" stroke-linejoin="round"/>
<rect x="295.1" y="2257.5" width="27" height="27" fill="#FF0000" stroke="#000" stroke-width="3" stroke-linejoin="round"/>
<rect x="305.5" y="2175.3" width="27" height="27" fill="#FF0000" stroke="#000" stroke-width="3" stroke-linejoin="round"/>
<rect x="311.1" y="2192.1" width="27" height="27" fill="#FF0000" stroke="#000" stroke-width="3" stroke-linejoin="round"/>
<rect x="353.8" y="2190.9" width="27" height="27" fill="#FF0000" stroke="#000" stroke-width="3" stroke-linejoin="round"/>
<rect x="369.9" y="2212.9" width="27" height="27" fill="#FF0000" stroke="#000" stroke-width="3" stroke-linejoin="round"/>
<polygon points="231.2,2189.2 245.1,2216.8 217.3,2216.8" fill="#92D050" stroke="#000" stroke-width="3" stroke-linejoin="round"/>
<polygon points="281,2192.2 294.9,2219.8 267.1,2219.8" fill="#92D050" stroke="#000" stroke-width="3" stroke-linejoin="round"/>
<polygon points="346,2182.2 359.9,2209.8 332.1,2209.8" fill="#92D050" stroke="#000" stroke-width="3" stroke-linejoin="round"/>
<polygon points="399,2166.8 412.9,2194.3 385.1,2194.3" fill="#92D050" stroke="#000" stroke-width="3" stroke-linejoin="round"/>
<polygon points="371.5,2194.8 385.4,2222.3 357.6,2222.3" fill="#92D050" stroke="#000" stroke-width="3" stroke-linejoin="round"/>
<polygon points="353.5,2204.2 367.4,2231.8 339.6,2231.8" fill="#92D050" stroke="#000" stroke-width="3" stroke-linejoin="round"/>
<polygon points="488,2194.2 501.9,2221.8 474.1,2221.8" fill="#92D050" stroke="#000" stroke-width="3" stroke-linejoin="round"/>
<polygon points="141.7,2251.2 155.6,2278.8 127.8,2278.8" fill="#000000" stroke="#000" stroke-width="3" stroke-linejoin="round"/>
<polygon points="226,2234.2 239.9,2261.8 212.1,2261.8" fill="#000000" stroke="#000" stroke-width="3" stroke-linejoin="round"/>
<polygon points="239,2235.2 252.9,2262.8 225.1,2262.8" fill="#000000" stroke="#000" stroke-width="3" stroke-linejoin="round"/>
<polygon points="253.4,2240.2 267.3,2267.8 239.5,2267.8" fill="#000000" stroke="#000" stroke-width="3" stroke-linejoin="round"/>
<polygon points="221.3,2265.2 235.2,2292.8 207.4,2292.8" fill="#000000" stroke="#000" stroke-width="3" stroke-linejoin="round"/>
<polygon points="280,2249.2 293.9,2276.8 266.1,2276.8" fill="#000000" stroke="#000" stroke-width="3" stroke-linejoin="round"/>
<polygon points="309,2257.2 322.9,2284.8 295.1,2284.8" fill="#000000" stroke="#000" stroke-width="3" stroke-linejoin="round"/>
<polygon points="365.3,2214.2 379.2,2241.8 351.4,2241.8" fill="#000000" stroke="#000" stroke-width="3" stroke-linejoin="round"/>
<rect x="101.3" y="1858.5" width="739.4" height="532.8" fill="none" stroke="#000" stroke-width="2.8"/>
<line x1="101.3" y1="2384.1" x2="101.3" y2="2398.5" stroke="#000" stroke-width="2.8"/>
<text x="101.3" y="2428.3" font-size="24.5" font-weight="bold" text-anchor="middle" fill="#000">0</text>
<line x1="471" y1="2384.1" x2="471" y2="2398.5" stroke="#000" stroke-width="2.8"/>
<text x="471" y="2428.3" font-size="24.5" font-weight="bold" text-anchor="middle" fill="#000">0.1</text>
<line x1="840.7" y1="2384.1" x2="840.7" y2="2398.5" stroke="#000" stroke-width="2.8"/>
<text x="840.7" y="2428.3" font-size="24.5" font-weight="bold" text-anchor="middle" fill="#000">0.2</text>
<line x1="286.2" y1="2385.8" x2="286.2" y2="2396.8" stroke="#000" stroke-width="2.8"/>
<line x1="655.8" y1="2385.8" x2="655.8" y2="2396.8" stroke="#000" stroke-width="2.8"/>
<line x1="94.1" y1="2391.3" x2="108.5" y2="2391.3" stroke="#000" stroke-width="2.8"/>
<text x="81" y="2400.1" font-size="24.5" font-weight="bold" text-anchor="end" fill="#000">0</text>
<line x1="94.1" y1="2213.7" x2="108.5" y2="2213.7" stroke="#000" stroke-width="2.8"/>
<text x="81" y="2222.5" font-size="24.5" font-weight="bold" text-anchor="end" fill="#000">1</text>
<line x1="94.1" y1="2036.1" x2="108.5" y2="2036.1" stroke="#000" stroke-width="2.8"/>
<text x="81" y="2044.9" font-size="24.5" font-weight="bold" text-anchor="end" fill="#000">2</text>
<line x1="94.1" y1="1858.5" x2="108.5" y2="1858.5" stroke="#000" stroke-width="2.8"/>
<text x="81" y="1867.3" font-size="24.5" font-weight="bold" text-anchor="end" fill="#000">3</text>
<line x1="95.8" y1="2302.5" x2="106.8" y2="2302.5" stroke="#000" stroke-width="2.8"/>
<line x1="95.8" y1="2124.9" x2="106.8" y2="2124.9" stroke="#000" stroke-width="2.8"/>
<line x1="95.8" y1="1947.3" x2="106.8" y2="1947.3" stroke="#000" stroke-width="2.8"/>
<rect x="111.2" y="1870" width="43.1" height="38.8" fill="#fff" stroke="#9a9a9a" stroke-width="1.6"/>
<text x="132.8" y="1898.2" font-size="34" text-anchor="middle" fill="#000">(g)</text>
<circle cx="1138.2" cy="2107" r="14.5" fill="#00B050" stroke="#000" stroke-width="3"/>
<circle cx="1135" cy="2120" r="14.5" fill="#00B050" stroke="#000" stroke-width="3"/>
<circle cx="1161" cy="2112.5" r="14.5" fill="#00B050" stroke="#000" stroke-width="3"/>
<circle cx="1157.5" cy="2124" r="14.5" fill="#00B050" stroke="#000" stroke-width="3"/>
<circle cx="1139.6" cy="2116" r="14.5" fill="#00B050" stroke="#000" stroke-width="3"/>
<circle cx="1194.4" cy="2114.6" r="14.5" fill="#00B050" stroke="#000" stroke-width="3"/>
<circle cx="1189.3" cy="2138.8" r="14.5" fill="#00B050" stroke="#000" stroke-width="3"/>
<polygon points="993.7,2191.5 1007.7,2220.5 979.8,2220.5" fill="#FF0000" stroke="#000" stroke-width="3" stroke-linejoin="round"/>
<polygon points="1022.4,2221.5 1036.3,2250.5 1008.4,2250.5" fill="#FF0000" stroke="#000" stroke-width="3" stroke-linejoin="round"/>
<polygon points="1020,2235.5 1034,2264.5 1006,2264.5" fill="#FF0000" stroke="#000" stroke-width="3" stroke-linejoin="round"/>
<polygon points="1034.6,2232.5 1048.5,2261.5 1020.6,2261.5" fill="#FF0000" stroke="#000" stroke-width="3" stroke-linejoin="round"/>
<polygon points="1114.8,2201.5 1128.8,2230.5 1100.8,2230.5" fill="#FF0000" stroke="#000" stroke-width="3" stroke-linejoin="round"/>
<polygon points="1150,2198 1164,2227 1136,2227" fill="#FF0000" stroke="#000" stroke-width="3" stroke-linejoin="round"/>
<polygon points="1055,2254.5 1069,2283.5 1041,2283.5" fill="#FF0000" stroke="#000" stroke-width="3" stroke-linejoin="round"/>
<polygon points="1068,2254.5 1082,2283.5 1054,2283.5" fill="#FF0000" stroke="#000" stroke-width="3" stroke-linejoin="round"/>
<polygon points="1013,2263.5 1027,2292.5 999,2292.5" fill="#FF0000" stroke="#000" stroke-width="3" stroke-linejoin="round"/>
<polygon points="976,2283.5 990,2312.5 962,2312.5" fill="#FF0000" stroke="#000" stroke-width="3" stroke-linejoin="round"/>
<polygon points="1115,2253.5 1129,2282.5 1101,2282.5" fill="#FF0000" stroke="#000" stroke-width="3" stroke-linejoin="round"/>
<polygon points="1164,2255.5 1178,2284.5 1150,2284.5" fill="#FF0000" stroke="#000" stroke-width="3" stroke-linejoin="round"/>
<polygon points="1200,2229.5 1214,2258.5 1186,2258.5" fill="#FF0000" stroke="#000" stroke-width="3" stroke-linejoin="round"/>
<polygon points="1213.5,2217.5 1227.5,2246.5 1199.5,2246.5" fill="#FF0000" stroke="#000" stroke-width="3" stroke-linejoin="round"/>
<polygon points="1206,2251.5 1220,2280.5 1192,2280.5" fill="#FF0000" stroke="#000" stroke-width="3" stroke-linejoin="round"/>
<polygon points="1246,2235.5 1260,2264.5 1232,2264.5" fill="#FF0000" stroke="#000" stroke-width="3" stroke-linejoin="round"/>
<polygon points="1253,2230.5 1267,2259.5 1239,2259.5" fill="#FF0000" stroke="#000" stroke-width="3" stroke-linejoin="round"/>
<polygon points="1252,2262.5 1266,2291.5 1238,2291.5" fill="#FF0000" stroke="#000" stroke-width="3" stroke-linejoin="round"/>
<polygon points="1060,2329.5 1074,2358.5 1046,2358.5" fill="#FF0000" stroke="#000" stroke-width="3" stroke-linejoin="round"/>
<polygon points="1317.4,2246 1331.4,2275 1303.5,2275" fill="#FF0000" stroke="#000" stroke-width="3" stroke-linejoin="round"/>
<polygon points="1360,2244.5 1374,2273.5 1346,2273.5" fill="#FF0000" stroke="#000" stroke-width="3" stroke-linejoin="round"/>
<polygon points="1362.4,2240.5 1376.4,2269.5 1348.5,2269.5" fill="#FF0000" stroke="#000" stroke-width="3" stroke-linejoin="round"/>
<polygon points="1420,2243 1434,2272 1406,2272" fill="#FF0000" stroke="#000" stroke-width="3" stroke-linejoin="round"/>
<polygon points="1424.6,2247.5 1438.5,2276.5 1410.6,2276.5" fill="#FF0000" stroke="#000" stroke-width="3" stroke-linejoin="round"/>
<polygon points="1436.3,2245.5 1450.2,2274.5 1422.3,2274.5" fill="#FF0000" stroke="#000" stroke-width="3" stroke-linejoin="round"/>
<polygon points="1483.3,2284.1 1497.2,2313.1 1469.3,2313.1" fill="#FF0000" stroke="#000" stroke-width="3" stroke-linejoin="round"/>
<polygon points="1499.7,2290.5 1513.7,2319.5 1485.8,2319.5" fill="#FF0000" stroke="#000" stroke-width="3" stroke-linejoin="round"/>
<rect x="979.8" y="2318.6" width="26.5" height="26.5" fill="#0070C0" stroke="#000" stroke-width="3" stroke-linejoin="round"/>
<rect x="995.8" y="2317.8" width="26.5" height="26.5" fill="#0070C0" stroke="#000" stroke-width="3" stroke-linejoin="round"/>
<rect x="1021.3" y="2321.2" width="26.5" height="26.5" fill="#0070C0" stroke="#000" stroke-width="3" stroke-linejoin="round"/>
<rect x="999.8" y="2309.8" width="26.5" height="26.5" fill="#0070C0" stroke="#000" stroke-width="3" stroke-linejoin="round"/>
<rect x="986.8" y="2292.2" width="26.5" height="26.5" fill="#0070C0" stroke="#000" stroke-width="3" stroke-linejoin="round"/>
<rect x="1013.8" y="2293.8" width="26.5" height="26.5" fill="#0070C0" stroke="#000" stroke-width="3" stroke-linejoin="round"/>
<rect x="1018.8" y="2297.8" width="26.5" height="26.5" fill="#0070C0" stroke="#000" stroke-width="3" stroke-linejoin="round"/>
<rect x="1128.8" y="2272.8" width="26.5" height="26.5" fill="#0070C0" stroke="#000" stroke-width="3" stroke-linejoin="round"/>
<rect x="1131.8" y="2277.8" width="26.5" height="26.5" fill="#0070C0" stroke="#000" stroke-width="3" stroke-linejoin="round"/>
<rect x="1153.8" y="2276.8" width="26.5" height="26.5" fill="#0070C0" stroke="#000" stroke-width="3" stroke-linejoin="round"/>
<rect x="1138.8" y="2308.3" width="26.5" height="26.5" fill="#0070C0" stroke="#000" stroke-width="3" stroke-linejoin="round"/>
<rect x="1085.8" y="2289.8" width="26.5" height="26.5" fill="#0070C0" stroke="#000" stroke-width="3" stroke-linejoin="round"/>
<rect x="1191.2" y="2283.8" width="26.5" height="26.5" fill="#0070C0" stroke="#000" stroke-width="3" stroke-linejoin="round"/>
<rect x="1004.9" y="2303.6" width="26.5" height="26.5" fill="#0070C0" stroke="#000" stroke-width="3" stroke-linejoin="round"/>
<rect x="982.6" y="2297.1" width="26.5" height="26.5" fill="#0070C0" stroke="#000" stroke-width="3" stroke-linejoin="round"/>
<rect x="956.5" y="2311.8" width="26.5" height="26.5" fill="#0070C0" stroke="#000" stroke-width="3" stroke-linejoin="round"/>
<rect x="1045.8" y="2310.4" width="26.5" height="26.5" fill="#0070C0" stroke="#000" stroke-width="3" stroke-linejoin="round"/>
<rect x="1053.5" y="2291.1" width="26.5" height="26.5" fill="#0070C0" stroke="#000" stroke-width="3" stroke-linejoin="round"/>
<rect x="1097.2" y="2285.8" width="26.5" height="26.5" fill="#0070C0" stroke="#000" stroke-width="3" stroke-linejoin="round"/>
<rect x="1145.7" y="2287.2" width="26.5" height="26.5" fill="#0070C0" stroke="#000" stroke-width="3" stroke-linejoin="round"/>
<rect x="1118.2" y="2305.6" width="26.5" height="26.5" fill="#0070C0" stroke="#000" stroke-width="3" stroke-linejoin="round"/>
<rect x="1205.2" y="2287.2" width="26.5" height="26.5" fill="#0070C0" stroke="#000" stroke-width="3" stroke-linejoin="round"/>
<rect x="1060.2" y="2337.6" width="26.5" height="26.5" fill="#0070C0" stroke="#000" stroke-width="3" stroke-linejoin="round"/>
<rect x="953.9" y="1859.3" width="778.9" height="529" fill="none" stroke="#000" stroke-width="2.8"/>
<line x1="953.9" y1="2381.1" x2="953.9" y2="2395.5" stroke="#000" stroke-width="2.8"/>
<text x="953.9" y="2426.8" font-size="25.5" font-weight="bold" text-anchor="middle" fill="#000">0</text>
<line x1="1343.3" y1="2381.1" x2="1343.3" y2="2395.5" stroke="#000" stroke-width="2.8"/>
<text x="1343.3" y="2426.8" font-size="25.5" font-weight="bold" text-anchor="middle" fill="#000">0.1</text>
<line x1="1732.8" y1="2381.1" x2="1732.8" y2="2395.5" stroke="#000" stroke-width="2.8"/>
<text x="1732.8" y="2426.8" font-size="25.5" font-weight="bold" text-anchor="middle" fill="#000">0.2</text>
<line x1="1148.6" y1="2382.8" x2="1148.6" y2="2393.8" stroke="#000" stroke-width="2.8"/>
<line x1="1538.1" y1="2382.8" x2="1538.1" y2="2393.8" stroke="#000" stroke-width="2.8"/>
<line x1="946.7" y1="2388.3" x2="961.1" y2="2388.3" stroke="#000" stroke-width="2.8"/>
<text x="932" y="2397.4" font-size="25.5" font-weight="bold" text-anchor="end" fill="#000">0</text>
<line x1="946.7" y1="2123.8" x2="961.1" y2="2123.8" stroke="#000" stroke-width="2.8"/>
<text x="932" y="2132.9" font-size="25.5" font-weight="bold" text-anchor="end" fill="#000">1</text>
<line x1="946.7" y1="1859.3" x2="961.1" y2="1859.3" stroke="#000" stroke-width="2.8"/>
<text x="932" y="1868.4" font-size="25.5" font-weight="bold" text-anchor="end" fill="#000">2</text>
<line x1="948.4" y1="2256.1" x2="959.4" y2="2256.1" stroke="#000" stroke-width="2.8"/>
<line x1="948.4" y1="1991.5" x2="959.4" y2="1991.5" stroke="#000" stroke-width="2.8"/>
<rect x="963.1" y="1869.7" width="43.3" height="38.9" fill="#fff" stroke="#9a9a9a" stroke-width="1.6"/>
<text x="984.8" y="1898" font-size="34" text-anchor="middle" fill="#000">(h)</text>
<text x="137" y="229.5" font-size="37" text-anchor="start" fill="#151515">Foitite</text>
<text x="197.9" y="460" font-size="37" text-anchor="start" fill="#151515">Schorl</text>
<text x="606.9" y="451.5" font-size="37" text-anchor="start" fill="#151515">Dravite</text>
<text x="1007" y="209" font-size="37" text-anchor="start" fill="#151515">Foitite</text>
<text x="1193.5" y="493" font-size="37" text-anchor="start" fill="#151515">Schorl</text>
<text x="1507.5" y="493" font-size="37" text-anchor="start" fill="#151515">Dravite</text>
<text x="505.3" y="597.4" font-size="37" text-anchor="middle" fill="#151515">Mg/Mg+Fe</text>
<text x="1366.5" y="597.1" font-size="37" text-anchor="middle" fill="#151515">Mg/Mg+Fe</text>
<text x="496.5" y="1208.2" font-size="37" text-anchor="middle" fill="#151515">Mg (apfu)</text>
<text x="1311.5" y="1209" font-size="37" text-anchor="middle" fill="#151515">Mg (apfu)</text>
<text x="482.8" y="1830.8" font-size="37" text-anchor="middle" fill="#151515">(Mg+Si)</text>
<text x="1344.3" y="1830.8" font-size="37" text-anchor="middle" fill="#151515">(Mg+Si)</text>
<text x="486.6" y="2473.1" font-size="37" text-anchor="middle" fill="#151515">Ti (apfu)</text>
<text x="1348" y="2473.1" font-size="37" text-anchor="middle" fill="#151515">Ti (apfu)</text>
<text transform="translate(28,256.7) rotate(-90)" x="0" y="0" font-size="36.6" text-anchor="middle" fill="#151515">X-vac/X-vac+Na+K</text>
<text transform="translate(36.6,858.4) rotate(-90)" x="0" y="0" font-size="37" text-anchor="middle" fill="#151515">Fe (apfu)</text>
<text transform="translate(27.8,1512.4) rotate(-90)" x="0" y="0" font-size="37" text-anchor="middle" fill="#151515">Al(T)+Al(Y)</text>
<text transform="translate(36.5,2112.4) rotate(-90)" x="0" y="0" font-size="37" text-anchor="middle" fill="#151515">Mg (apfu)</text>
<rect x="159.1" y="25.9" width="23.9" height="24.4" fill="#FFFF00" stroke="#404040" stroke-width="1"/>
<rect x="159.1" y="61.7" width="23.9" height="24" fill="#FF0000" stroke="#404040" stroke-width="1"/>
<polygon points="171.1,95.8 183,119.5 159.1,119.5" fill="#92D050" stroke="#404040" stroke-width="1"/>
<polygon points="171.1,129.2 183,152.4 159.1,152.4" fill="#000000" stroke="#404040" stroke-width="1"/>
<text x="185" y="44.4" font-size="25.8" textLength="650" lengthAdjust="spacingAndGlyphs" fill="#000">Type 1 Tur core in Upper Bonai Group Granite pegmatite</text>
<text x="185" y="82.3" font-size="25.8" textLength="639" lengthAdjust="spacingAndGlyphs" fill="#000">Type 1 Tur rim in Upper Bonai Group Granite pegmatite</text>
<text x="185" y="118" font-size="25.8" textLength="650.6" lengthAdjust="spacingAndGlyphs" fill="#000">Type 2 Tur core in Upper Bonai Group Granite pegmatite</text>
<text x="185.5" y="151.5" font-size="25.8" textLength="638.9" lengthAdjust="spacingAndGlyphs" fill="#000">Type 2 Tur rim in Upper Bonai Group Granite pegmatite</text>
<circle cx="1152.8" cy="46.8" r="12.9" fill="#00B050" stroke="#404040" stroke-width="1"/>
<polygon points="1152.8,82.7 1165.7,107.9 1139.8,107.9" fill="#FF0000" stroke="#404040" stroke-width="1"/>
<rect x="1139.8" y="133.1" width="25.9" height="25.9" fill="#0070C0" stroke="#404040" stroke-width="1"/>
<text x="1170" y="54.6" font-size="27.7" textLength="557.5" lengthAdjust="spacingAndGlyphs" fill="#000">Core tourmaline from Gangpur Group Granite</text>
<text x="1171.3" y="106.9" font-size="27.7" textLength="543" lengthAdjust="spacingAndGlyphs" fill="#000">Rim tourmaline from Gangpur Group granite</text>
<text x="1172.9" y="156" font-size="27.7" textLength="529.8" lengthAdjust="spacingAndGlyphs" fill="#000">Tourmaline from Gangpur Group pegmatite</text>
</svg>
</body></html>
